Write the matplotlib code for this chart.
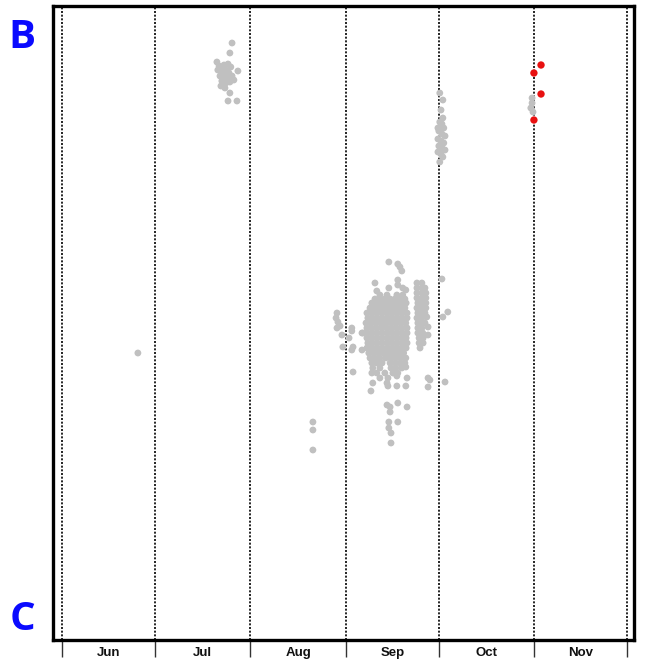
import matplotlib
matplotlib.use("Agg")
import matplotlib.pyplot as plt

# x = day of year, y = position between C (0) and B (634)
month_starts = [152, 182, 213, 244, 274, 305, 335]
month_labels = ["Jun", "Jul", "Aug", "Sep", "Oct", "Nov"]

jun_x = [176.6]
jun_y = [287]

jul_x = [207.1, 206.4, 202.2, 202.9, 204.5, 205.8, 206.7, 209.0, 202.5, 203.8,
         205.1, 206.1, 203.2, 204.5, 205.8, 207.1, 203.8, 205.1, 206.4, 203.5,
         204.8, 206.4, 205.8, 208.7, 207.7, 205.1, 204.2]
jul_y = [597, 587, 578, 574, 575, 576, 573, 569, 570, 568,
         570, 567, 564, 562, 563, 564, 559, 557, 558, 554,
         552, 547, 539, 539, 560, 565, 572]

aug_x = [233.3, 233.3, 233.3]
aug_y = [218, 210, 190]

# scattered September points
sep_x = [241.1, 240.8, 241.4, 242.1, 241.1, 242.7, 243.0, 245.9, 245.9, 249.2,
         246.3, 245.9, 249.2, 246.3, 245.0,
         252.4, 252.7, 252.1, 257.3, 257.6, 260.5, 263.4, 260.5, 263.8, 263.4,
         257.3, 258.3, 260.8, 263.8, 258.3, 257.9, 260.8, 257.9, 258.6, 258.6,
         270.6, 270.6, 271.2, 276.1, 275.1, 277.0, 275.4, 270.6, 270.6, 270.2,
         257.9, 260.8, 261.5, 262.1, 253.4, 260.8, 260.8, 257.9, 254.0, 263.4, 262.4]
sep_y = [327, 322, 318, 314, 312, 305, 293, 312, 309, 307,
         293, 290, 290, 268, 302,
         267, 257, 249, 257, 254, 254, 254, 264, 262, 273,
         235, 233, 237, 233, 228, 218, 218, 212, 207, 197,
         262, 253, 260, 258, 361, 328, 323, 313, 305, 323,
         378, 376, 373, 369, 357, 360, 355, 352, 349, 350, 352]

# dense September core, row by row (y, days)
sep_core = [
    (345, [255.0, 257.3, 260.5, 262.4]),
    (341, [253.4, 255.0, 256.6, 258.3, 259.9, 261.5, 263.1]),
    (337, [252.4, 254.0, 255.7, 257.3, 258.9, 260.5, 262.1, 263.5]),
    (332, [251.8, 253.4, 255.0, 256.6, 258.3, 259.9, 261.5, 263.1]),
    (327, [250.8, 252.4, 254.0, 255.7, 257.3, 258.9, 260.5, 262.1, 263.8]),
    (322, [251.1, 252.7, 254.3, 255.9, 257.6, 259.2, 260.8, 262.4, 263.8]),
    (317, [250.5, 252.1, 253.7, 255.3, 256.9, 258.6, 260.2, 261.8, 263.4]),
    (312, [250.8, 252.4, 254.0, 255.7, 257.3, 258.9, 260.5, 262.1, 263.8]),
    (307, [249.5, 251.1, 252.7, 254.3, 255.9, 257.6, 259.2, 260.8, 262.4, 263.8]),
    (302, [250.8, 252.4, 254.0, 255.7, 257.3, 258.9, 260.5, 262.1, 263.5]),
    (297, [251.1, 252.7, 254.3, 255.9, 257.6, 259.2, 260.8, 262.4, 263.8]),
    (292, [250.8, 252.4, 254.0, 255.7, 257.3, 258.9, 260.5, 262.1, 263.5]),
    (287, [251.4, 253.0, 254.6, 256.2, 257.9, 259.5, 261.1, 262.7]),
    (282, [251.8, 253.4, 255.0, 256.9, 258.6, 260.2, 261.8, 263.4]),
    (277, [252.4, 254.0, 255.7, 258.3, 259.9, 261.5, 263.1]),
    (272, [252.7, 255.0, 258.6, 260.2, 262.1]),
    (267, [254.0, 256.6, 259.2, 260.8]),
    (262, [255.0, 257.6]),
]

# right-hand strip of September
sep_strip = [
    (357, [267.0, 268.6]),
    (352, [267.0, 268.6, 269.6]),
    (347, [267.0, 268.6, 269.9]),
    (342, [267.0, 268.6, 269.9]),
    (337, [267.3, 268.6, 269.9]),
    (332, [267.0, 268.6, 269.9]),
    (327, [267.3, 268.6, 269.6]),
    (322, [267.0, 268.6]),
    (317, [267.3, 268.6, 269.6]),
    (312, [267.3, 268.6]),
    (307, [267.3, 268.9]),
    (302, [267.7, 269.0]),
    (297, [267.7, 269.0]),
    (292, [268.0]),
]

oct_x = [274.4, 275.4, 274.8, 275.4, 274.4, 274.8, 275.7, 274.1, 275.1, 276.1,
         273.8, 274.8, 275.7, 274.1, 275.1, 276.1, 273.8, 274.8, 275.4, 274.4,
         273.8, 275.1]
oct_y = [547, 540, 530, 522, 518, 514, 512, 509, 506, 504,
         501, 499, 497, 494, 492, 490, 488, 486, 483, 478,
         512, 516]

nov_x = [304.3, 304.3, 303.9, 304.6]
nov_y = [542, 537, 532, 528]

red_x = [307.2, 304.9, 307.2, 304.9]
red_y = [575, 567, 546, 520]

gray = "#c0c0c0"
red = "#e81010"

fig = plt.figure(figsize=(6.48, 6.60), dpi=100)
ax = fig.add_axes([0.0818, 0.0303, 0.8965, 0.9606])

for m in month_starts:
    ax.axvline(m, color="black", lw=1.2, ls=(0, (1.2, 1.0)), zorder=1)

core_x = [d for _, row in sep_core for d in row]
core_y = [y for y, row in sep_core for _ in row]
strip_x = [d for _, row in sep_strip for d in row]
strip_y = [y for y, row in sep_strip for _ in row]

all_x = jun_x + jul_x + aug_x + sep_x + core_x + strip_x + oct_x + nov_x
all_y = jun_y + jul_y + aug_y + sep_y + core_y + strip_y + oct_y + nov_y
ax.scatter(all_x, all_y, s=24, color=gray, edgecolors="none", zorder=2)
ax.scatter(red_x, red_y, s=28, color=red, edgecolors="none", zorder=3)

ax.set_xlim(149.1, 337.3)
ax.set_ylim(0, 634)
ax.set_yticks([])

ax.set_xticks(month_starts)
ax.set_xticklabels([])
ax.tick_params(axis="x", which="major", direction="out", length=12, width=1.0, color="#333333")
mids = [(a + b) / 2 for a, b in zip(month_starts[:-1], month_starts[1:])]
ax.set_xticks(mids, minor=True)
ax.set_xticklabels(month_labels, minor=True, fontsize=9.5, fontweight="bold",
                   family="Liberation Sans", color="#111111")
ax.tick_params(axis="x", which="minor", length=0, pad=5)

for sp in ax.spines.values():
    sp.set_linewidth(2.4)
    sp.set_color("black")

fig.text(0.034, 0.943, "B", fontsize=29, fontweight="bold", color="#0a0aff",
         family="Open Sans", ha="center", va="center")
fig.text(0.034, 0.061, "C", fontsize=29, fontweight="bold", color="#0a0aff",
         family="Open Sans", ha="center", va="center")

fig.savefig("out.png", dpi=100)
